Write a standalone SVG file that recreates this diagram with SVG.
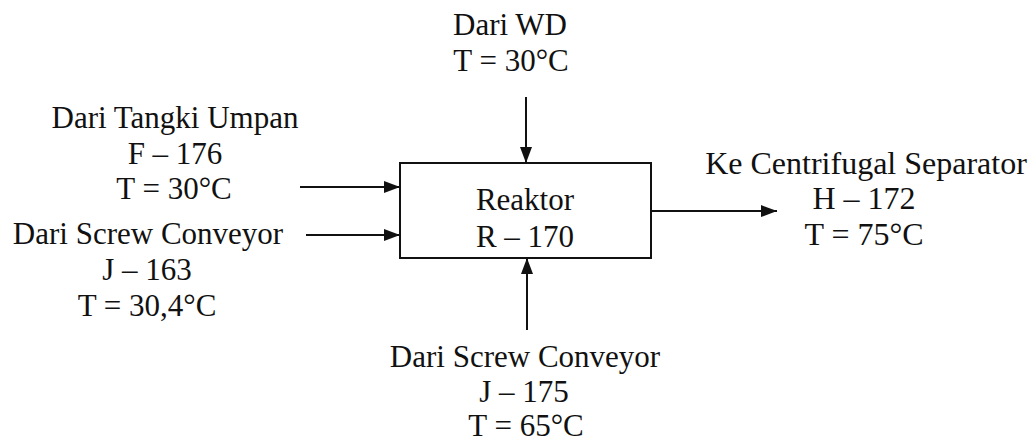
<svg xmlns="http://www.w3.org/2000/svg" width="1032" height="444" viewBox="0 0 1032 444">
<style>
text{font-family:"Liberation Serif","Times New Roman",serif;font-size:31px;fill:#111;text-anchor:middle}
.big{font-size:32px}
.ln{stroke:#111;stroke-width:2;fill:none}
.box{stroke:#111;stroke-width:2;fill:#fff}
</style>
<defs>
<marker id="ah" markerUnits="userSpaceOnUse" markerWidth="16" markerHeight="12" refX="16" refY="6" orient="auto">
<path d="M0,0 L16,6 L0,12 z" fill="#111"/>
</marker>
</defs>
<rect width="1032" height="444" fill="#fff"/>
<g id="connectors">
<line class="ln" x1="526" y1="97" x2="526" y2="163" marker-end="url(#ah)"/>
<line class="ln" x1="300" y1="187" x2="400" y2="187" marker-end="url(#ah)"/>
<line class="ln" x1="306" y1="235" x2="400" y2="235" marker-end="url(#ah)"/>
<line class="ln" x1="651" y1="211" x2="777" y2="211" marker-end="url(#ah)"/>
<line class="ln" x1="527" y1="330" x2="527" y2="258" marker-end="url(#ah)"/>
</g>
<g id="reaktor">
<rect class="box" x="400" y="163" width="251" height="95"/>
<text x="525" y="210">Reaktor</text>
<text x="525" y="247">R – 170</text>
</g>
<g id="src-wd">
<text x="510" y="35">Dari WD</text>
<text x="511" y="71">T = 30°C</text>
</g>
<g id="src-tangki">
<text x="175" y="128">Dari Tangki Umpan</text>
<text x="175" y="164">F – 176</text>
<text x="174" y="199">T = 30°C</text>
</g>
<g id="src-screw1">
<text x="148" y="244">Dari Screw Conveyor</text>
<text x="147" y="280">J – 163</text>
<text x="147" y="316">T = 30,4°C</text>
</g>
<g id="out-centrifugal">
<text class="big" x="866" y="174">Ke Centrifugal Separator</text>
<text class="big" x="864" y="209">H – 172</text>
<text class="big" x="864" y="245">T = 75°C</text>
</g>
<g id="src-screw2">
<text x="525" y="367">Dari Screw Conveyor</text>
<text x="524" y="402">J – 175</text>
<text x="526" y="436">T = 65°C</text>
</g>
</svg>
